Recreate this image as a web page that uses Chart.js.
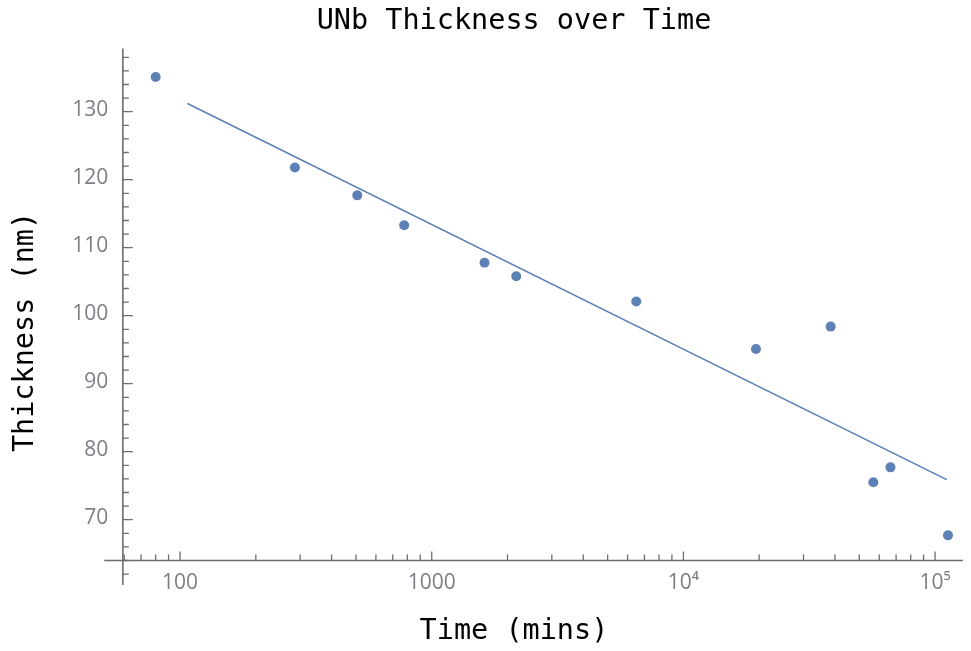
<!DOCTYPE html>
<html><head><meta charset="utf-8">
<script src="https://cdn.jsdelivr.net/npm/chart.js@4.4.1/dist/chart.umd.min.js"></script>
<style>html,body{margin:0;padding:0;background:#fff}#wrap{width:971px;height:651px}</style>
</head><body><div id="wrap"><canvas id="c" width="971" height="651"></canvas></div>
<script>
// ---- data ----
const times = [80, 286, 506, 777, 1621, 2167, 6496, 19420, 38460, 56830, 66470, 112500];
const thickness = [135.1, 121.8, 117.7, 113.3, 107.8, 105.8, 102.1, 95.1, 98.4, 75.5, 77.7, 67.7];
const fitTimes = [107, 111200];
const fitThickness = [131.2, 75.9];
const xTickValues = [100, 1000, 10000, 100000];
const xTickLabels = ['100', '1000', '10\u2074', '10\u2075'];
const yTickValues = [70, 80, 90, 100, 110, 120, 130];
const yTickLabels = ['70', '80', '90', '100', '110', '120', '130'];

// axis geometry (data units)
const yAxisAtX = 59.25, xAxisAtY = 64;
const xAxisStart = 50, xAxisEnd = 129000;
const yAxisStart = 60.4, yAxisEnd = 139.3;

const blue = '#5E81B5';
const axisColor = '#6e6e6e';
const tickLabelColor = '#7d7d85';
const mono = 'DejaVu Sans Mono';
const tickFont = {family: 'Open Sans', size: 21};

// widest y label, so right-aligned labels end just left of the y axis
const mctx = document.createElement('canvas').getContext('2d');
mctx.font = `normal ${tickFont.size}px ${tickFont.family}`;
const widestY = Math.max(...yTickLabels.map(s => mctx.measureText(s).width));
const yLabelRight = 43.3; // px right of the chart-area left edge

const axesPlugin = {
  id: 'mmaAxes',
  beforeDatasetsDraw(chart) {
    const {ctx, scales: {x, y}} = chart;
    const ax = x.getPixelForValue(yAxisAtX);
    const ay = y.getPixelForValue(xAxisAtY);
    ctx.save();
    ctx.strokeStyle = axisColor;
    ctx.lineWidth = 1.6;
    ctx.beginPath();
    ctx.moveTo(x.getPixelForValue(xAxisStart), ay);
    ctx.lineTo(x.getPixelForValue(xAxisEnd), ay);
    ctx.moveTo(ax, y.getPixelForValue(yAxisStart));
    ctx.lineTo(ax, y.getPixelForValue(yAxisEnd));
    ctx.stroke();
    ctx.lineWidth = 1.3;
    ctx.beginPath();
    for (let d = 10; d <= 100000; d *= 10) {
      for (let m = 1; m <= 9; m++) {
        const v = m * d;
        if (v < 60 || v > xAxisEnd) continue;
        const px = x.getPixelForValue(v);
        const len = m === 1 ? 9 : 6;
        ctx.moveTo(px, ay); ctx.lineTo(px, ay - len);
      }
    }
    for (let v = 62; v <= 138; v += 2) {
      const py = y.getPixelForValue(v);
      const len = v % 10 === 0 ? 10 : 6;
      ctx.moveTo(ax, py); ctx.lineTo(ax + len, py);
    }
    ctx.stroke();
    ctx.restore();
  }
};

new Chart(document.getElementById('c'), {
  type: 'scatter',
  data: {
    datasets: [
      {
        label: 'Thickness',
        data: times.map((t, i) => ({x: t, y: thickness[i]})),
        pointRadius: 5,
        pointBackgroundColor: blue,
        pointBorderWidth: 0,
        showLine: false
      },
      {
        label: 'Fit',
        data: fitTimes.map((t, i) => ({x: t, y: fitThickness[i]})),
        showLine: true,
        borderColor: blue,
        borderWidth: 1.6,
        pointRadius: 0,
        fill: false
      }
    ]
  },
  options: {
    responsive: false,
    devicePixelRatio: 1,
    animation: false,
    layout: {padding: 0},
    plugins: {
      legend: {display: false},
      tooltip: {enabled: false},
      title: {
        display: true,
        text: 'UNb Thickness over Time',
        fullSize: false,
        color: '#000',
        font: {family: mono, size: 28.5, weight: 'normal', lineHeight: 1.2},
        padding: {top: 4.7, bottom: 9.1}
      }
    },
    scales: {
      x: {
        type: 'logarithmic',
        position: 'bottom',
        min: 34.9,
        max: 129000,
        afterFit: s => { s.height = 35; },
        afterBuildTicks: s => { s.ticks = xTickValues.map(v => ({value: v})); },
        grid: {display: false, drawTicks: false},
        border: {display: false},
        ticks: {
          autoSkip: false,
          maxRotation: 0,
          mirror: true,
          padding: 20,
          color: tickLabelColor,
          font: tickFont,
          callback: (v, i) => xTickLabels[i]
        },
        title: {
          display: true,
          text: 'Time (mins)',
          color: '#000',
          font: {family: mono, size: 28.5, lineHeight: 1.2},
          padding: {top: 0, bottom: 2}
        }
      },
      y: {
        type: 'linear',
        position: 'left',
        min: 55.84,
        max: 139.37,
        afterFit: s => { s.width = 65; },
        afterBuildTicks: s => { s.ticks = yTickValues.map(v => ({value: v})); },
        grid: {display: false, drawTicks: false},
        border: {display: false},
        ticks: {
          mirror: true,
          crossAlign: 'far',
          padding: yLabelRight - widestY,
          labelOffset: -2,
          color: tickLabelColor,
          font: tickFont,
          callback: (v, i) => yTickLabels[i]
        },
        title: {
          display: true,
          text: 'Thickness (nm)',
          color: '#000',
          font: {family: mono, size: 28.5, lineHeight: 1.2},
          padding: {top: 8, bottom: 0}
        }
      }
    }
  },
  plugins: [axesPlugin]
});
</script>
</body></html>
